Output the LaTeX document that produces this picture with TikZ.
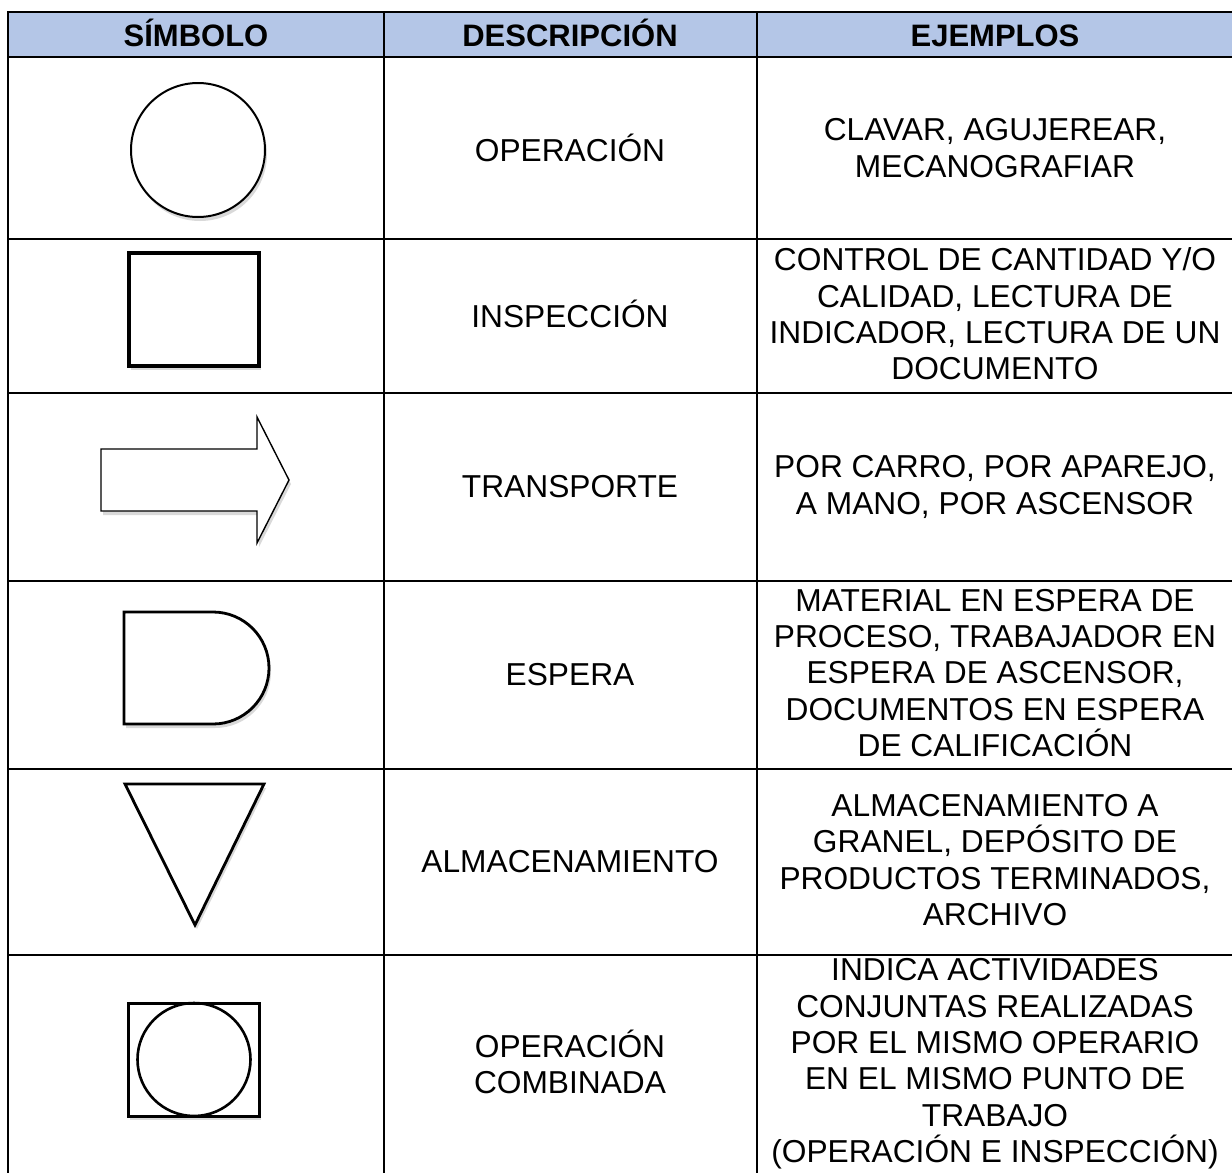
\documentclass[tikz,border=0pt]{standalone}
\usepackage{fontspec}
\setmainfont{Liberation Sans}
\usetikzlibrary{shadows}
\definecolor{hdr}{HTML}{B4C6E7}
\begin{document}
\begin{tikzpicture}[x=1pt,y=-1pt,
  grid/.style={line width=2.5pt},
  body/.style={font=\fontsize{31.7}{36.4}\selectfont, align=center, inner sep=0pt},
  head/.style={font=\bfseries\fontsize{31}{36}\selectfont, inner sep=0pt, anchor=base},
  sym/.style={draw=black, fill=white, line width=2.8pt,
    drop shadow={shadow xshift=2pt, shadow yshift=-4pt, fill=black, opacity=0.15}},
]
\useasboundingbox (0,0) rectangle (1232,1173);
% header fill
\fill[hdr] (8,12) rectangle (1240,57);
% grid
\draw[grid] (8,1180) -- (8,12) -- (1240,12);
\foreach \yy in {57,239,393,581,769,955}
  \draw[grid] (8,\yy) -- (1240,\yy);
\draw[grid] (384,12) -- (384,1180);
\draw[grid] (757,12) -- (757,1180);
% header
\node[head] (hs) at (196,46) {SÍMBOLO};
\node[head] (hd) at (570,46) {DESCRIPCIÓN};
\node[head] (he) at (995,46) {EJEMPLOS};
% descriptions
\node[body] (d1) at (570,148) {OPERACIÓN};
\node[body] (d2) at (570,314) {INSPECCIÓN};
\node[body] (d3) at (570,487) {TRANSPORTE};
\node[body] (d4) at (570,675) {ESPERA};
\node[body] (d5) at (570,862) {ALMACENAMIENTO};
\node[body] (d6) at (570,1062) {OPERACIÓN\\COMBINADA};
% examples
\node[body] (e1) at (995,148) {CLAVAR, AGUJEREAR,\\MECANOGRAFIAR};
\node[body] (e2) at (995,314) {CONTROL DE CANTIDAD Y/O\\CALIDAD, LECTURA DE\\INDICADOR, LECTURA DE UN\\DOCUMENTO};
\node[body] (e3) at (995,487) {POR CARRO, POR APAREJO,\\A MANO, POR ASCENSOR};
\node[body] (e4) at (995,673) {MATERIAL EN ESPERA DE\\PROCESO, TRABAJADOR EN\\ESPERA DE ASCENSOR,\\DOCUMENTOS EN ESPERA\\DE CALIFICACIÓN};
\node[body] (e5) at (995,860) {ALMACENAMIENTO A\\GRANEL, DEPÓSITO DE\\PRODUCTOS TERMINADOS,\\ARCHIVO};
\node[body] (e6) at (995,1064) {INDICA ACTIVIDADES\\CONJUNTAS REALIZADAS\\POR EL MISMO OPERARIO\\EN EL MISMO PUNTO DE\\TRABAJO\\(OPERACIÓN E INSPECCIÓN)};
% symbols
\draw[sym, line width=2pt] (198,150) circle (67);
\draw[sym, line width=3.2pt] (129,253) rectangle (259,366);
\draw[sym, line width=1.4pt] (101,449) -- (257,449) -- (257,417) -- (289,480) -- (257,543) -- (257,511) -- (101,511) -- cycle;
\draw[sym] (124,612) -- (213,612) arc[start angle=-90, end angle=90, radius=56] -- (124,724) -- cycle;
\draw[sym] (125,784) -- (264,784) -- (195,925) -- cycle;
\draw[sym, line width=3pt] (128,1003) rectangle (259,1116);
\draw[line width=2.6pt] (194,1059.5) circle (56.5);
\end{tikzpicture}
\end{document}
